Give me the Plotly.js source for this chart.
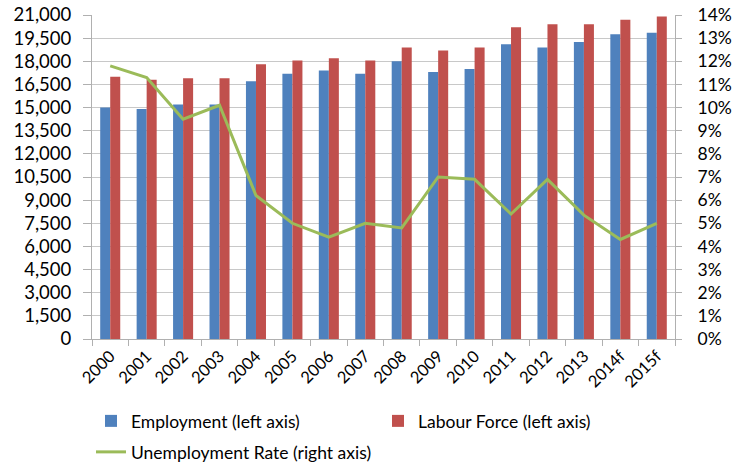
<!DOCTYPE html>
<html>
<head>
<meta charset="utf-8">
<script src="https://cdn.plot.ly/plotly-3.0.1.min.js"></script>
<style>html,body{margin:0;padding:0;background:#fff;}#chart{width:734px;height:468px;}</style>
</head>
<body>
<div id="chart"></div>
<script>
const years = ["2000","2001","2002","2003","2004","2005","2006","2007","2008","2009","2010","2011","2012","2013","2014f","2015f"];
const employment = [15000,14900,15200,15200,16700,17200,17400,17200,18000,17300,17500,19100,18900,19250,19750,19850];
const labourForce = [17000,16800,16900,16900,17800,18050,18200,18050,18900,18700,18900,20200,20400,20400,20700,20900];
const unemploymentRate = [11.8,11.3,9.5,10.1,6.2,5.0,4.4,5.0,4.8,7.0,6.9,5.4,6.9,5.35,4.3,5.0];
const leftTicks = [0,1500,3000,4500,6000,7500,9000,10500,12000,13500,15000,16500,18000,19500,21000];
const rightTicks = [0,1,2,3,4,5,6,7,8,9,10,11,12,13,14];

const FONT = "Lato, 'Open Sans', sans-serif";
const traces = [
  {type:'bar', name:'Employment (left axis)', x:years, y:employment, marker:{color:'#4F81BD'}, legend:'legend'},
  {type:'bar', name:'Labour Force (left axis)', x:years, y:labourForce, marker:{color:'#C0504D'}, legend:'legend'},
  {type:'scatter', mode:'lines', name:'Unemployment Rate (right axis)', x:years, y:unemploymentRate, yaxis:'y2',
   line:{color:'#9BBB59', width:3}, legend:'legend2'}
];
const layout = {
  width:734, height:468,
  margin:{l:92, r:59, t:15, b:129},
  paper_bgcolor:'#fff', plot_bgcolor:'#fff',
  font:{family:FONT, size:15, color:'#000'},
  barmode:'group', bargap:0.45, bargroupgap:0,
  showlegend:true,
  xaxis:{type:'category', tickangle:-45, showgrid:false, showline:true, linecolor:'#b0b0b0', linewidth:1,
    ticks:'outside', tickson:'boundaries', ticklen:6, tickcolor:'#b0b0b0', tickfont:{size:16.5}, automargin:false},
  yaxis:{range:[0,21000], tickvals:leftTicks, ticktext:leftTicks.map(v=>v.toLocaleString('en-US')),
    showgrid:true, gridcolor:'#c8c8c8', gridwidth:1, showline:true, linecolor:'#b0b0b0',
    ticks:'outside', ticklen:8, tickcolor:'#b0b0b0', tickfont:{size:18.5}, zeroline:false, automargin:false,
    ticklabelstandoff:8},
  yaxis2:{overlaying:'y', side:'right', range:[0,14], tickvals:rightTicks, ticktext:rightTicks.map(v=>v+'%'),
    showgrid:false, showline:true, linecolor:'#b0b0b0', ticks:'outside', ticklen:6, tickcolor:'#b0b0b0',
    tickfont:{size:17.5}, zeroline:false, automargin:false, ticklabelstandoff:12},
  legend:{orientation:'h', xref:'container', yref:'container', x:91/734, xanchor:'left', y:1-(403/468), yanchor:'top',
    entrywidth:242, font:{size:17.5}},
  legend2:{orientation:'h', xref:'container', yref:'container', x:91/734, xanchor:'left', y:1-(434/468), yanchor:'top',
    font:{size:17.5}}
};
Plotly.newPlot('chart', traces, layout, {displayModeBar:false, staticPlot:true});
</script>
</body>
</html>
